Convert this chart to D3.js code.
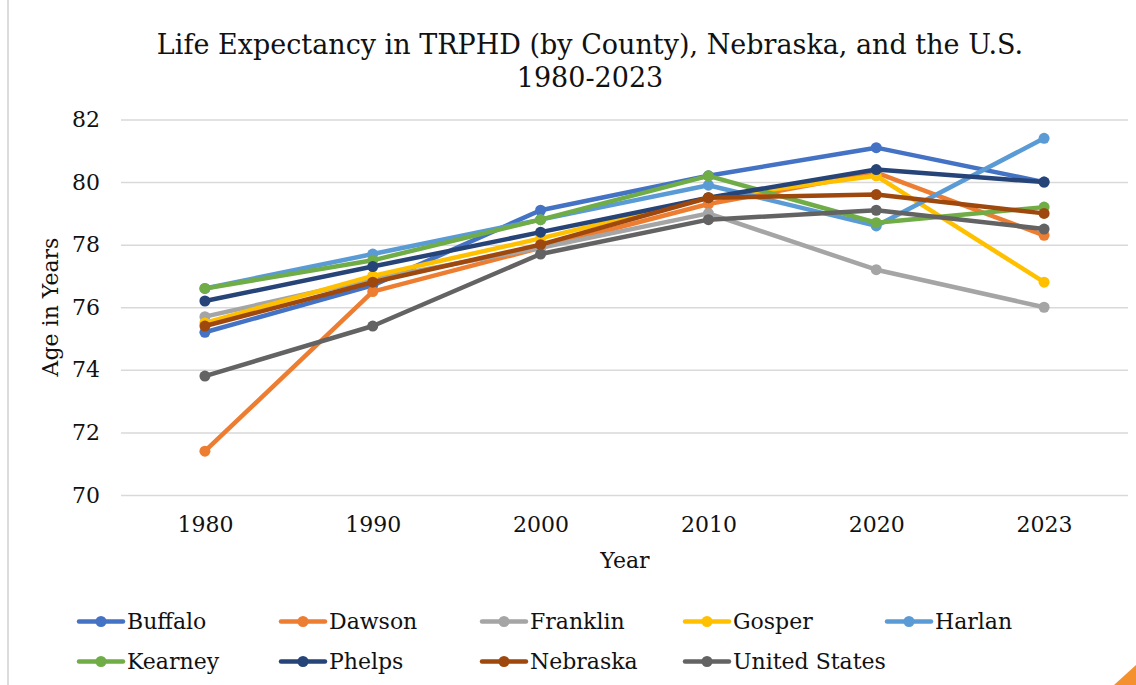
<!DOCTYPE html>
<html>
<head>
<meta charset="utf-8">
<script src="https://cdn.jsdelivr.net/npm/d3@7/dist/d3.min.js"></script>
<style>
  html, body { margin: 0; padding: 0; background: #fff; }
  svg { display: block; }
  text { font-family: "DejaVu Serif", Georgia, serif; fill: #111; }
</style>
</head>
<body>
<svg id="chart" width="1136" height="685"></svg>
<script>
// Survey years on the category axis
const years = ["1980", "1990", "2000", "2010", "2020", "2023"];

// Life expectancy (years) per area, one value per survey year
const buffalo      = [75.2, 76.7, 79.1, 80.2, 81.1, 80.0];
const dawson       = [71.4, 76.5, 77.9, 79.3, 80.3, 78.3];
const franklin     = [75.7, 76.9, 77.9, 79.0, 77.2, 76.0];
const gosper       = [75.5, 77.0, 78.2, 79.5, 80.2, 76.8];
const harlan       = [76.6, 77.7, 78.8, 79.9, 78.6, 81.4];
const kearney      = [76.6, 77.5, 78.8, 80.2, 78.7, 79.2];
const phelps       = [76.2, 77.3, 78.4, 79.5, 80.4, 80.0];
const nebraska     = [75.4, 76.8, 78.0, 79.5, 79.6, 79.0];
const unitedStates = [73.8, 75.4, 77.7, 78.8, 79.1, 78.5];

const seriesNames = ["Buffalo", "Dawson", "Franklin", "Gosper", "Harlan",
                     "Kearney", "Phelps", "Nebraska", "United States"];
const seriesValues = [buffalo, dawson, franklin, gosper, harlan,
                      kearney, phelps, nebraska, unitedStates];
const seriesColors = ["#4472C4", "#ED7D31", "#A5A5A5", "#FFC000", "#5B9BD5",
                      "#70AD47", "#264478", "#9E480E", "#636363"];

const yTicks = [70, 72, 74, 76, 78, 80, 82];

const titleLines = ["Life Expectancy in TRPHD (by County), Nebraska, and the U.S.", "1980-2023"];

const series = seriesNames.map((name, i) => ({
  name,
  color: seriesColors[i],
  points: years.map((yr, j) => ({ year: yr, value: seriesValues[i][j] }))
}));

const svg = d3.select("#chart");

// Plot area
const plot = { left: 121, right: 1128, top: 119.5, bottom: 495 };

const x = d3.scalePoint()
  .domain(years)
  .range([plot.left, plot.right])
  .padding(0.5);

const y = d3.scaleLinear()
  .domain([70, 82])
  .range([plot.bottom, plot.top]);

// Thin frame edge on the left and corner accent
svg.append("line")
  .attr("x1", 8).attr("x2", 8).attr("y1", 0).attr("y2", 685)
  .attr("stroke", "#d0d0d0").attr("stroke-width", 1.5);

svg.append("path")
  .attr("d", "M1136,665 L1136,685 L1114,685 Z")
  .attr("fill", "#F4902E");

// Title
svg.append("g")
  .selectAll("text")
  .data(titleLines)
  .join("text")
  .attr("x", 590)
  .attr("y", (d, i) => 54 + i * 33)
  .attr("text-anchor", "middle")
  .attr("font-size", 27)
  .text(d => d);

// Horizontal gridlines + y tick labels
const yAxis = d3.axisLeft(y)
  .tickValues(yTicks)
  .tickSize(-(plot.right - plot.left))
  .tickPadding(21)
  .tickFormat(d3.format("d"));

const gy = svg.append("g")
  .attr("transform", `translate(${plot.left},0)`)
  .call(yAxis);
gy.select(".domain").remove();
gy.selectAll(".tick line").attr("stroke", "#d9d9d9").attr("stroke-width", 1.5);
gy.selectAll(".tick text")
  .attr("font-size", 22)
  .attr("font-family", "DejaVu Serif, serif")
  .attr("fill", "#111");

// X tick labels
const xAxis = d3.axisBottom(x).tickSize(0).tickPadding(21);
const gx = svg.append("g")
  .attr("transform", `translate(0,${plot.bottom})`)
  .call(xAxis);
gx.select(".domain").remove();
gx.selectAll(".tick text")
  .attr("font-size", 22)
  .attr("font-family", "DejaVu Serif, serif")
  .attr("fill", "#111");

// Axis titles
svg.append("text")
  .attr("x", 625).attr("y", 568)
  .attr("text-anchor", "middle")
  .attr("font-size", 22)
  .text("Year");

svg.append("text")
  .attr("transform", "translate(58,307) rotate(-90)")
  .attr("text-anchor", "middle")
  .attr("font-size", 22)
  .text("Age in Years");

// Series lines and markers
const line = d3.line()
  .x(d => x(d.year))
  .y(d => y(d.value));

const gSeries = svg.append("g")
  .selectAll("g")
  .data(series)
  .join("g");

gSeries.append("path")
  .attr("d", d => line(d.points))
  .attr("fill", "none")
  .attr("stroke", d => d.color)
  .attr("stroke-width", 4.5)
  .attr("stroke-linejoin", "round")
  .attr("stroke-linecap", "round");

gSeries.selectAll("circle")
  .data(d => d.points.map(p => ({ ...p, color: d.color })))
  .join("circle")
  .attr("cx", d => x(d.year))
  .attr("cy", d => y(d.value))
  .attr("r", 5.5)
  .attr("fill", d => d.color);

// Legend: two rows, five columns
const legendCols = [79, 281, 482, 685, 887];
const legendRows = [621.5, 661.5];

const gLegend = svg.append("g")
  .selectAll("g")
  .data(series)
  .join("g")
  .attr("transform", (d, i) => `translate(${legendCols[i % 5]},${legendRows[Math.floor(i / 5)]})`);

gLegend.append("line")
  .attr("x1", 0).attr("x2", 44)
  .attr("stroke", d => d.color)
  .attr("stroke-width", 4.5)
  .attr("stroke-linecap", "round");

gLegend.append("circle")
  .attr("cx", 22).attr("r", 5.5)
  .attr("fill", d => d.color);

gLegend.append("text")
  .attr("x", 48)
  .attr("dy", "0.35em")
  .attr("font-size", 22)
  .text(d => d.name);
</script>
</body>
</html>
